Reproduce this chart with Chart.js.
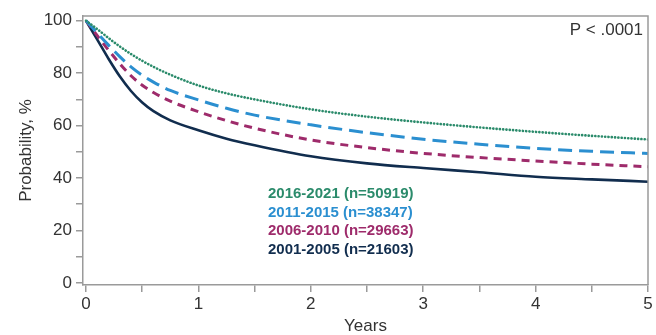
<!DOCTYPE html>
<html>
<head>
<meta charset="utf-8">
<script src="https://cdn.jsdelivr.net/npm/chart.js@4.4.1/dist/chart.umd.min.js"></script>
<style>
  html, body { margin: 0; padding: 0; background: #fff; }
  #wrap { width: 656px; height: 335px; }
</style>
</head>
<body>
<div id="wrap"><canvas id="myChart" width="656" height="335"></canvas></div>
<script>
// Valores
const years = [0, 0.1, 0.2, 0.3, 0.4, 0.5, 0.6, 0.75, 1, 1.25, 1.5, 2, 2.5, 3, 3.5, 4, 4.5, 5];
const p2016 = [100, 96.8, 93.4, 90.2, 87.3, 84.7, 82.4, 79.4, 75.3, 72.3, 70, 66.2, 63.4, 61.2, 59.3, 57.6, 56.1, 54.7];
const p2011 = [100, 95.3, 90.7, 86.3, 82.4, 79.2, 76.6, 73.4, 69.8, 66.6, 64, 60.3, 57.3, 54.8, 52.9, 51.3, 50.2, 49.4];
const p2006 = [100, 94.3, 88.8, 83.6, 79, 75.4, 72.6, 69.3, 65.3, 61.9, 59, 54.5, 51.6, 49.4, 47.8, 46.5, 45.3, 44.3];
const p2001 = [100, 92.8, 85.5, 78.8, 73.2, 68.8, 65.5, 62, 58.2, 55, 52.5, 48.3, 45.6, 43.8, 42.2, 40.5, 39.5, 38.6];
const seriesLabels = ["2016-2021 (n=50919)", "2011-2015 (n=38347)", "2006-2010 (n=29663)", "2001-2005 (n=21603)"];
const xTicks = [0, 0.5, 1, 1.5, 2, 2.5, 3, 3.5, 4, 4.5, 5];
const yTicks = [0, 10, 20, 30, 40, 50, 60, 70, 80, 90, 100];
const pText = "P < .0001";

const cores = ["#2b8b6b", "#2b8fd0", "#9e2b6b", "#112d4e"];
const toPts = (arr) => years.map((x, i) => ({ x: x, y: arr[i] }));

// Moldura, legenda e valor de P
const extras = {
  id: "extras",
  afterDatasetsDraw(chart) {
    const { ctx, chartArea: a } = chart;
    ctx.save();
    ctx.strokeStyle = "#9a9a9a";
    ctx.lineWidth = 1.5;
    ctx.beginPath();
    ctx.moveTo(a.left, a.top);
    ctx.lineTo(a.right, a.top);
    ctx.lineTo(a.right, a.bottom);
    ctx.stroke();

    ctx.font = "17px 'Liberation Sans', Arial, sans-serif";
    ctx.fillStyle = "#333";
    ctx.textAlign = "right";
    ctx.textBaseline = "middle";
    ctx.fillText(pText, a.right - 5, a.top + 14);

    ctx.font = "bold 15px 'Liberation Sans', Arial, sans-serif";
    ctx.textAlign = "left";
    seriesLabels.forEach((t, i) => {
      ctx.fillStyle = cores[i];
      ctx.fillText(t, 268, 194 + i * 18.5);
    });
    ctx.restore();
  },
};

const ctx = document.getElementById("myChart");
new Chart(ctx, {
  type: "line",
  data: {
    datasets: [
      { label: seriesLabels[0], data: toPts(p2016), borderColor: cores[0], borderWidth: 2.6, borderDash: [0.1, 3.2], borderCapStyle: "round" },
      { label: seriesLabels[1], data: toPts(p2011), borderColor: cores[1], borderWidth: 3, borderDash: [14, 7] },
      { label: seriesLabels[2], data: toPts(p2006), borderColor: cores[2], borderWidth: 3, borderDash: [8, 6] },
      { label: seriesLabels[3], data: toPts(p2001), borderColor: cores[3], borderWidth: 2.6 },
    ],
  },
  options: {
    responsive: false,
    animation: false,
    layout: { padding: { top: 16, right: 8, left: 0, bottom: 0 } },
    elements: { point: { radius: 0 }, line: { cubicInterpolationMode: "monotone", fill: false } },
    plugins: { legend: { display: false }, tooltip: { enabled: false } },
    scales: {
      x: {
        type: "linear",
        min: -0.027,
        max: 5,
        afterBuildTicks: (s) => { s.ticks = xTicks.map((v) => ({ value: v })); },
        afterFit: (s) => { s.height = 50; },
        ticks: {
          autoSkip: false,
          maxRotation: 0,
          padding: 2,
          color: "#333",
          font: { family: "'Liberation Sans', Arial, sans-serif", size: 17 },
          callback: (v) => (Number.isInteger(v) ? v : ""),
        },
        grid: { drawOnChartArea: false, tickLength: 7, color: "#9a9a9a", lineWidth: 1.5 },
        border: { color: "#9a9a9a", width: 1.5 },
        title: {
          display: true,
          text: "Years",
          color: "#333",
          padding: { top: 0, bottom: 0 },
          font: { family: "'Liberation Sans', Arial, sans-serif", size: 17, lineHeight: 1.0 },
        },
      },
      y: {
        type: "linear",
        min: -0.8,
        max: 101.8,
        afterBuildTicks: (s) => { s.ticks = yTicks.map((v) => ({ value: v })); },
        afterFit: (s) => { s.width = 83; },
        ticks: {
          autoSkip: false,
          padding: 4,
          color: "#333",
          font: { family: "'Liberation Sans', Arial, sans-serif", size: 17 },
          callback: (v) => (v % 20 === 0 ? v : ""),
        },
        grid: { drawOnChartArea: false, tickLength: 7, color: "#9a9a9a", lineWidth: 1.5 },
        border: { color: "#9a9a9a", width: 1.5 },
        title: {
          display: true,
          text: "Probability, %",
          color: "#333",
          padding: { top: 16, bottom: 0 },
          font: { family: "'Liberation Sans', Arial, sans-serif", size: 17, lineHeight: 1.2 },
        },
      },
    },
  },
  plugins: [extras],
});
</script>
</body>
</html>
